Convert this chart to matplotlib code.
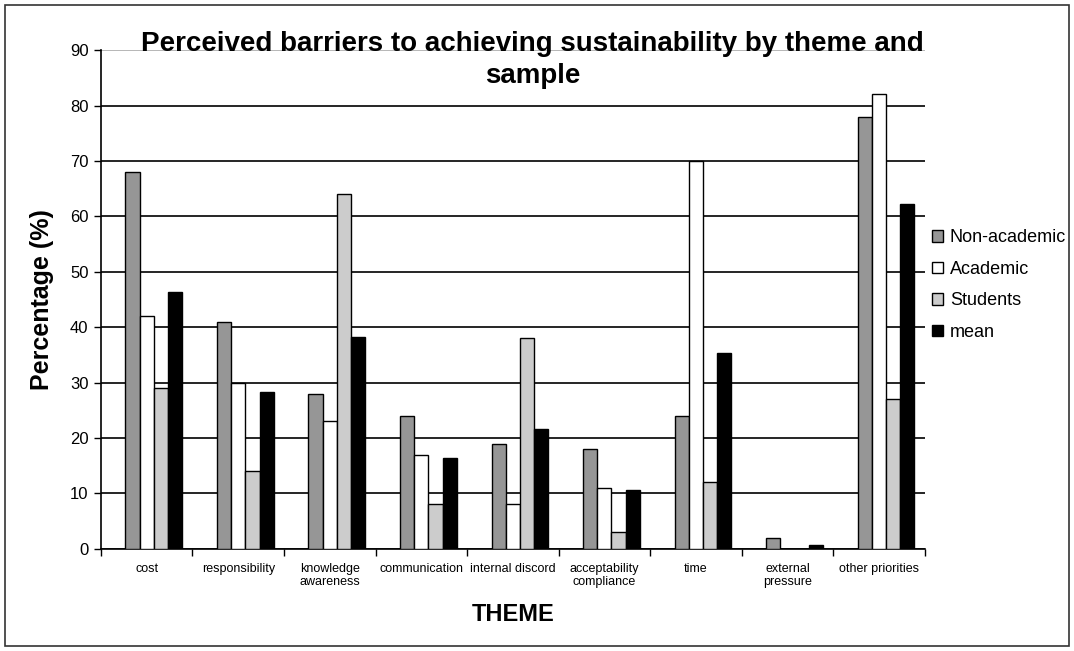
import numpy as np
import matplotlib.pyplot as plt
from matplotlib.patches import Rectangle

# Dữ liệu
themes = ['cost', 'responsibility', 'knowledge\nawareness', 'communication',
          'internal discord', 'acceptability\ncompliance', 'time',
          'external\npressure', 'other priorities']
non_academic = [68, 41, 28, 24, 19, 18, 24, 2, 78]
academic = [42, 30, 23, 17, 8, 11, 70, 0, 82]
students = [29, 14, 64, 8, 38, 3, 12, 0, 27]
mean_vals = [46.3, 28.3, 38.3, 16.3, 21.7, 10.7, 35.3, 0.7, 62.3]

series_names = ['Non-academic', 'Academic', 'Students', 'mean']
series_colors = ['#969696', '#ffffff', '#cccccc', '#000000']

plt.rcParams['font.family'] = ['Liberation Sans', 'DejaVu Sans']

fig = plt.figure(figsize=(10.74, 6.51), dpi=100)
ax = fig.add_axes([0.094, 0.157, 0.767, 0.766])

x = np.arange(len(themes))
w = 0.155
all_series = [non_academic, academic, students, mean_vals]
for i, (vals, name, col) in enumerate(zip(all_series, series_names, series_colors)):
    # slot 0 của nhóm để trống như bản gốc
    ax.bar(x + (i - 1) * w, vals, width=w, color=col, edgecolor='black',
           linewidth=1, label=name, zorder=3)

ax.set_xlim(-0.5, len(themes) - 0.5)
ax.set_ylim(0, 90)
ax.set_yticks(range(0, 91, 10))
ax.yaxis.grid(True, color='black', linewidth=1.2, zorder=0)
ax.get_ygridlines()[-1].set_color('#aaaaaa')

ax.set_xticks(x)
ax.set_xticklabels(themes, fontsize=9)
ax.set_xticks(np.arange(-0.5, len(themes), 1), minor=True)
ax.tick_params(axis='x', which='major', length=0, pad=10)
ax.tick_params(axis='x', which='minor', length=5, direction='out', width=1)
ax.tick_params(axis='y', length=5, direction='out', width=1, labelsize=12, pad=4)

for s in ['top', 'right']:
    ax.spines[s].set_visible(False)
ax.spines['left'].set_linewidth(1.2)
ax.spines['bottom'].set_linewidth(1.2)

ax.set_ylabel('Percentage (%)', fontsize=18, fontweight='bold')
ax.yaxis.set_label_coords(-0.057, 0.5)
ax.set_xlabel('THEME', fontsize=17, fontweight='bold')
ax.xaxis.set_label_coords(0.5, -0.108)

fig.text(0.496, 0.953, 'Perceived barriers to achieving sustainability by theme and\nsample',
         ha='center', va='top', fontsize=20, fontweight='bold', linespacing=1.3)

ax.legend(loc='center left', bbox_to_anchor=(1.0, 0.529), frameon=False,
          fontsize=13, handlelength=0.6, handleheight=0.6, handletextpad=0.4,
          labelspacing=0.8, borderaxespad=0.0)

fig.patches.append(Rectangle((0.005, 0.008), 0.99, 0.984, transform=fig.transFigure,
                             fill=False, edgecolor='#333333', linewidth=1.2))

fig.savefig('out.png', dpi=100)
